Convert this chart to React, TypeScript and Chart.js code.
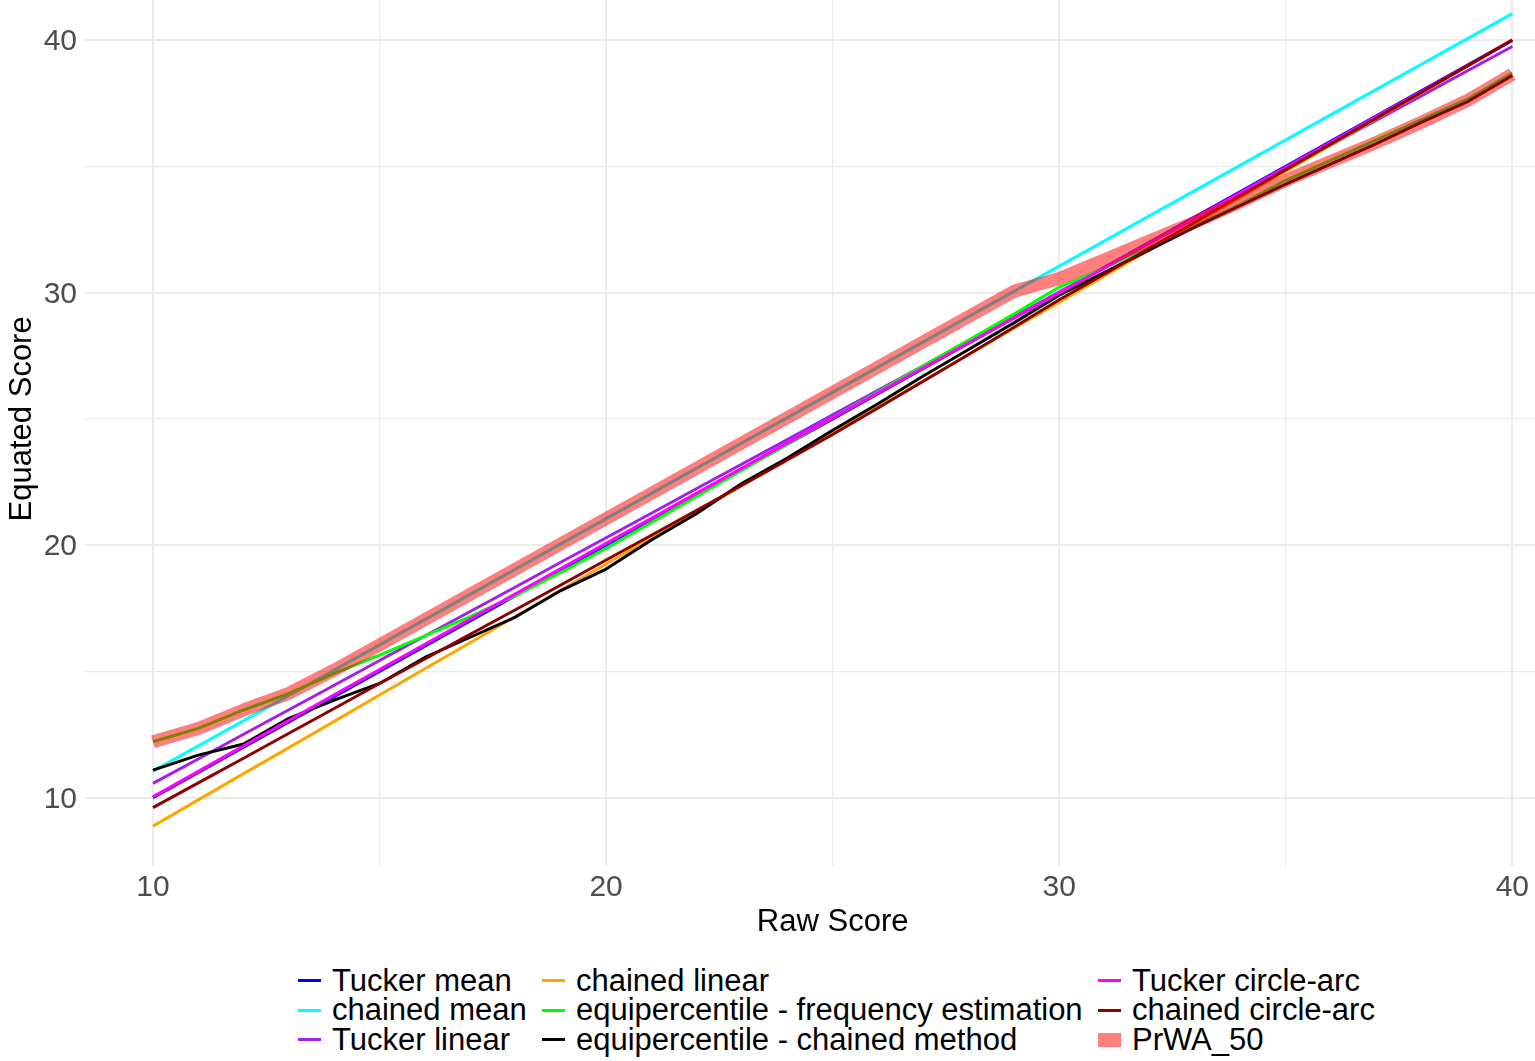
import React, { useEffect, useRef } from 'react';
import { Chart, registerables } from 'chart.js';

Chart.register(...registerables);

// raw scores on the x axis
const scores = [10, 11, 12, 13, 14, 15, 16, 17, 18, 19, 20, 21, 22, 23, 24, 25, 26, 27, 28, 29, 30, 31, 32, 33, 34, 35, 36, 37, 38, 39, 40];

// equated scores
const tuckerMean = [10.0, 11.0, 12.0, 13.0, 14.0, 15.0, 16.0, 17.0, 18.0, 19.0, 20.0, 21.0, 22.0, 23.0, 24.0, 25.0, 26.0, 27.0, 28.0, 29.0, 30.0, 31.0, 32.0, 33.0, 34.0, 35.0, 36.0, 37.0, 38.0, 39.0, 40.0];
const chainedMean = [11.05, 12.05, 13.05, 14.05, 15.05, 16.05, 17.05, 18.05, 19.05, 20.05, 21.05, 22.05, 23.05, 24.05, 25.05, 26.05, 27.05, 28.05, 29.05, 30.05, 31.05, 32.05, 33.05, 34.05, 35.05, 36.05, 37.05, 38.05, 39.05, 40.05, 41.05];
const tuckerLinear = [10.56, 11.53, 12.51, 13.48, 14.45, 15.43, 16.4, 17.37, 18.34, 19.32, 20.29, 21.26, 22.24, 23.21, 24.18, 25.16, 26.13, 27.1, 28.08, 29.05, 30.02, 30.99, 31.97, 32.94, 33.91, 34.89, 35.86, 36.83, 37.8, 38.78, 39.75];
const chainedLinear = [8.87, 9.91, 10.95, 11.98, 13.02, 14.06, 15.1, 16.13, 17.17, 18.21, 19.25, 20.28, 21.32, 22.36, 23.4, 24.44, 25.47, 26.51, 27.55, 28.59, 29.62, 30.66, 31.7, 32.74, 33.77, 34.81, 35.85, 36.89, 37.92, 38.96, 40.0];
const equiFreq = [12.21, 12.74, 13.47, 14.13, 14.92, 15.64, 16.4, 17.17, 18.0, 18.92, 19.87, 20.9, 21.93, 22.97, 24.0, 25.05, 26.07, 27.1, 28.12, 29.15, 30.22, 30.98, 31.8, 32.65, 33.5, 34.45, 35.25, 36.05, 36.85, 37.65, 38.7];
const equiChained = [11.09, 11.68, 12.12, 13.14, 13.86, 14.52, 15.55, 16.35, 17.15, 18.2, 19.05, 20.2, 21.25, 22.45, 23.45, 24.55, 25.6, 26.7, 27.75, 28.8, 29.9, 30.8, 31.7, 32.6, 33.45, 34.3, 35.1, 35.9, 36.75, 37.55, 38.6];
const tuckerArc = [10.03, 11.04, 12.05, 13.06, 14.07, 15.07, 16.07, 17.07, 18.07, 19.07, 20.07, 21.06, 22.06, 23.05, 24.05, 25.04, 26.03, 27.02, 28.01, 29.0, 29.99, 30.98, 31.97, 32.96, 33.96, 34.96, 35.96, 36.97, 37.97, 38.98, 40.0];
const chainedArc = [9.6, 10.58, 11.56, 12.55, 13.53, 14.52, 15.49, 16.47, 17.44, 18.42, 19.41, 20.39, 21.38, 22.37, 23.37, 24.38, 25.43, 26.49, 27.55, 28.63, 29.72, 30.74, 31.77, 32.8, 33.84, 34.87, 35.89, 36.91, 37.94, 38.97, 40.0];
const prwa50 = [12.21, 12.74, 13.47, 14.13, 15.05, 16.05, 17.05, 18.05, 19.05, 20.05, 21.05, 22.05, 23.05, 24.05, 25.05, 26.05, 27.05, 28.05, 29.05, 30.05, 30.56, 31.3, 32.05, 32.8, 33.6, 34.45, 35.2, 35.95, 36.75, 37.6, 38.65];

const xTicks = [10, 15, 20, 25, 30, 35, 40];
const yTicks = [10, 15, 20, 25, 30, 35, 40];

const series = [
  { label: 'Tucker mean', values: tuckerMean, color: '#0000FF' },
  { label: 'chained mean', values: chainedMean, color: '#00FFFF' },
  { label: 'Tucker linear', values: tuckerLinear, color: '#A020F0' },
  { label: 'chained linear', values: chainedLinear, color: '#FFA500' },
  { label: 'equipercentile - frequency estimation', values: equiFreq, color: '#00FF00' },
  { label: 'equipercentile - chained method', values: equiChained, color: '#000000' },
  { label: 'Tucker circle-arc', values: tuckerArc, color: '#FF00FF' },
  { label: 'chained circle-arc', values: chainedArc, color: '#8B0000' },
  { label: 'PrWA_50', values: prwa50, color: 'rgba(255,0,0,0.5)', band: true },
];

const FONT = '"Liberation Sans", Arial, Helvetica, sans-serif';
const WIDTH = 1535;
const CANVAS_H = 945;
const AREA_BOTTOM = 866;
const AREA_LEFT = 85;

// legend laid out column-first, like ggplot
const legendCols = [298, 542, 1098];
const legendRows = [980.5, 1010, 1039.5];

// axis titles centred on the (uncropped) panel
const axisTitles = {
  id: 'axisTitles',
  afterDraw(chart: Chart) {
    const { ctx } = chart;
    const xs = chart.scales.x;
    const ys = chart.scales.y;
    ctx.save();
    ctx.fillStyle = '#000000';
    ctx.font = `31px ${FONT}`;
    ctx.textAlign = 'center';
    ctx.textBaseline = 'middle';
    ctx.fillText('Raw Score', xs.getPixelForValue(25), 922);
    ctx.translate(22, ys.getPixelForValue(25));
    ctx.rotate(-Math.PI / 2);
    ctx.fillText('Equated Score', 0, 0);
    ctx.restore();
  },
};

const App: React.FC = () => {
  const canvasRef = useRef<HTMLCanvasElement | null>(null);

  useEffect(() => {
    if (!canvasRef.current) return;
    const n = series.length;

    const chart = new Chart(canvasRef.current, {
      type: 'line',
      data: {
        datasets: series.map((s, i) => ({
          label: s.label,
          data: scores.map((x, j) => ({ x, y: s.values[j] })),
          borderColor: s.color,
          backgroundColor: s.color,
          borderWidth: s.band ? 13 : 3,
          borderJoinStyle: 'round' as const,
          pointRadius: 0,
          tension: 0,
          fill: false,
          order: n - 1 - i,
        })),
      },
      options: {
        animation: false,
        responsive: true,
        maintainAspectRatio: false,
        layout: { padding: 0 },
        plugins: {
          legend: { display: false },
          tooltip: { enabled: false },
        },
        scales: {
          x: {
            type: 'linear',
            min: 8.5,
            max: 40.5,
            border: { display: false },
            grid: {
              color: '#EBEBEB',
              lineWidth: (c: any) => (c.tick && c.tick.value % 10 === 0 ? 2 : 1.3),
              drawTicks: false,
            },
            afterBuildTicks: (scale: any) => {
              scale.ticks = xTicks.map((v) => ({ value: v }));
            },
            ticks: {
              padding: 4,
              color: '#4D4D4D',
              font: { family: FONT, size: 30 },
              maxRotation: 0,
              autoSkip: false,
              callback: (v: any) => (Number(v) % 10 === 0 ? String(v) : ''),
            },
            afterFit: (scale: any) => {
              scale.height = CANVAS_H - AREA_BOTTOM;
              scale.paddingLeft = 0;
              scale.paddingRight = 0;
            },
          },
          y: {
            type: 'linear',
            min: 7.29,
            max: 41.59,
            border: { display: false },
            grid: {
              color: '#EBEBEB',
              lineWidth: (c: any) => (c.tick && c.tick.value % 10 === 0 ? 2 : 1.3),
              drawTicks: false,
            },
            afterBuildTicks: (scale: any) => {
              scale.ticks = yTicks.map((v) => ({ value: v }));
            },
            ticks: {
              padding: 8,
              labelOffset: 2,
              color: '#4D4D4D',
              font: { family: FONT, size: 30 },
              autoSkip: false,
              callback: (v: any) => (Number(v) % 10 === 0 ? String(v) : ''),
            },
            afterFit: (scale: any) => {
              scale.width = AREA_LEFT;
              scale.paddingTop = 0;
              scale.paddingBottom = 0;
            },
          },
        },
      },
      plugins: [axisTitles],
    });

    return () => chart.destroy();
  }, []);

  return (
    <div style={{ position: 'absolute', left: 0, top: 0, width: WIDTH, height: 1061, background: '#fff', fontFamily: FONT }}>
      <div style={{ position: 'absolute', left: 0, top: 0, width: WIDTH, height: CANVAS_H }}>
        <canvas ref={canvasRef} />
      </div>
      {series.map((s, i) => {
        const col = Math.floor(i / 3);
        const row = i % 3;
        return (
          <div
            key={s.label}
            style={{
              position: 'absolute',
              left: legendCols[col],
              top: legendRows[row] - 15,
              height: 30,
              display: 'flex',
              alignItems: 'center',
              whiteSpace: 'nowrap',
            }}
          >
            <span
              style={{
                display: 'inline-block',
                width: 23,
                height: s.band ? 14 : 3,
                background: s.color,
                marginRight: 11,
              }}
            />
            <span style={{ fontSize: 31, lineHeight: '30px', color: '#000' }}>{s.label}</span>
          </div>
        );
      })}
    </div>
  );
};

export default App;
